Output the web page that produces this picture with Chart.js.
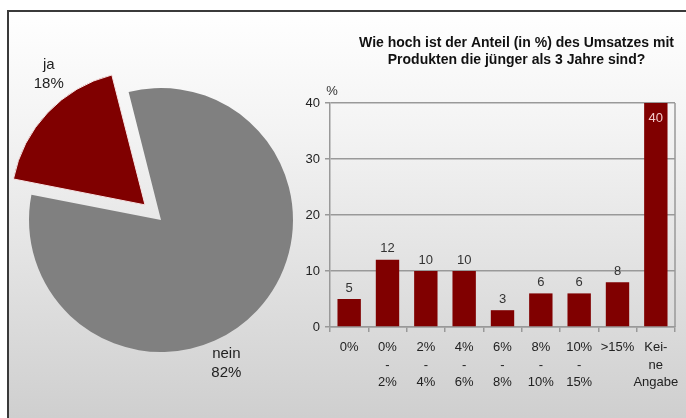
<!DOCTYPE html>
<html>
<head>
<meta charset="utf-8">
<script src="https://cdn.jsdelivr.net/npm/chart.js@4/dist/chart.umd.min.js"></script>
<style>
    html, body { margin: 0; padding: 0; background: #fff; }
    body { width: 686px; height: 418px; position: relative; overflow: hidden; }
    #pie-wrap { position: absolute; left: 0; top: 0; width: 322px; height: 418px; }
    #bar-wrap { position: absolute; left: 296px; top: 0; width: 390px; height: 418px; }
</style>
</head>
<body>
<div id="pie-wrap"><canvas id="pie-chart" width="322" height="418"></canvas></div>
<div id="bar-wrap"><canvas id="bar-chart" width="390" height="418"></canvas></div>
<script>
    const pieLabels = ['ja', 'nein'];
    const pieValues = [18, 82];

    const chartTitle = ['Wie hoch ist der Anteil (in %) des Umsatzes mit', 'Produkten die jünger als 3 Jahre sind?'];
    const barCategories = [
        ['0%'], ['0%', '-', '2%'], ['2%', '-', '4%'], ['4%', '-', '6%'], ['6%', '-', '8%'],
        ['8%', '-', '10%'], ['10%', '-', '15%'], ['>15%'], ['Kei-', 'ne', 'Angabe']
    ];
    const barValues = [5, 12, 10, 10, 3, 6, 6, 8, 40];
    const yMax = 40;
    const yStep = 10;

    const red = '#800000';
    const grey = '#808080';
    const fontFamily = '"Liberation Sans", Arial, sans-serif';
    Chart.defaults.font.family = fontFamily;
    Chart.defaults.color = '#222';

    // shared panel background: grey gradient with a dark frame top and left,
    // drawn in page coordinates so both canvases line up
    const panelPlugin = {
        id: 'panel',
        beforeDraw(chart, args, opts) {
            const ctx = chart.ctx;
            const dx = -opts.pageLeft;
            ctx.save();
            ctx.fillStyle = '#fff';
            ctx.fillRect(0, 0, chart.width, chart.height);
            const g = ctx.createLinearGradient(0, 10, 0, 418);
            g.addColorStop(0, '#ffffff');
            g.addColorStop(0.3, '#f3f3f3');
            g.addColorStop(1, '#cfcfcf');
            ctx.fillStyle = g;
            ctx.fillRect(7 + dx, 10, 1000, 500);
            ctx.strokeStyle = '#3a3a3a';
            ctx.lineWidth = 2;
            ctx.beginPath();
            ctx.moveTo(8 + dx, 420);
            ctx.lineTo(8 + dx, 11);
            ctx.lineTo(1000, 11);
            ctx.stroke();
            ctx.restore();
        }
    };

    // labels for the pie, placed outside the slices
    const pieLabelPlugin = {
        id: 'pieLabels',
        afterDatasetsDraw(chart, args, opts) {
            const ctx = chart.ctx;
            const meta = chart.getDatasetMeta(0);
            ctx.save();
            ctx.font = '15px ' + fontFamily;
            ctx.fillStyle = '#222';
            ctx.textAlign = 'center';
            ctx.textBaseline = 'middle';
            meta.data.forEach((arc, i) => {
                const mid = (arc.startAngle + arc.endAngle) / 2 + opts.shift[i] * Math.PI / 180;
                const x = arc.x + Math.cos(mid) * opts.dist[i];
                const y = arc.y + Math.sin(mid) * opts.dist[i];
                ctx.fillText(pieLabels[i], x, y - 9);
                ctx.fillText(pieValues[i] + '%', x, y + 10);
            });
            ctx.restore();
        }
    };

    new Chart($('pie-chart'), {
        type: 'pie',
        data: {
            labels: pieLabels,
            datasets: [{
                data: pieValues,
                backgroundColor: [red, grey],
                borderColor: ['#f6e4e4', grey],
                borderWidth: [1, 0],
                offset: [88, 0]
            }]
        },
        options: {
            responsive: false,
            animation: false,
            rotation: -79,
            radius: 132,
            layout: { padding: { top: 22 } },
            plugins: {
                legend: { display: false },
                tooltip: { enabled: false },
                panel: { pageLeft: 0 },
                pieLabels: { shift: [9, 22], dist: [184, 157] }
            }
        },
        plugins: [panelPlugin, pieLabelPlugin]
    });

    // title, "%" unit, plot frame and value labels for the bar chart
    const barExtrasPlugin = {
        id: 'barExtras',
        afterDatasetsDraw(chart) {
            const ctx = chart.ctx;
            const area = chart.chartArea;
            ctx.save();

            ctx.strokeStyle = '#999';
            ctx.lineWidth = 1.5;
            ctx.beginPath();
            ctx.moveTo(area.right, area.top);
            ctx.lineTo(area.right, area.bottom);
            ctx.stroke();

            ctx.fillStyle = '#111';
            ctx.textAlign = 'center';
            ctx.textBaseline = 'middle';
            ctx.font = 'bold 14px ' + fontFamily;
            const cx = (area.left + area.right) / 2 + 14;
            chartTitle.forEach((line, i) => ctx.fillText(line, cx, 43 + i * 17));

            ctx.font = '13px ' + fontFamily;
            ctx.fillStyle = '#333';
            ctx.fillText('%', area.left + 2, area.top - 12);

            const meta = chart.getDatasetMeta(0);
            meta.data.forEach((bar, i) => {
                const v = barValues[i];
                if (v >= yMax) {
                    ctx.fillStyle = '#f2caca';
                    ctx.fillText(String(v), bar.x, bar.y + 15);
                } else {
                    ctx.fillStyle = '#333';
                    ctx.fillText(String(v), bar.x, bar.y - 11);
                }
            });
            ctx.restore();
        }
    };

    new Chart($('bar-chart'), {
        type: 'bar',
        data: {
            labels: barCategories,
            datasets: [{
                data: barValues,
                backgroundColor: red,
                borderWidth: 0,
                categoryPercentage: 1,
                barPercentage: 0.61
            }]
        },
        options: {
            responsive: false,
            animation: false,
            layout: { padding: { top: 103, right: 11, left: 0, bottom: 0 } },
            plugins: {
                legend: { display: false },
                tooltip: { enabled: false },
                panel: { pageLeft: 296 }
            },
            scales: {
                x: {
                    grid: { drawOnChartArea: false, tickLength: 5, color: '#999', lineWidth: 1.5 },
                    border: { color: '#999', width: 1.5 },
                    ticks: { font: { size: 13, lineHeight: 1.35 }, color: '#222', padding: 7, maxRotation: 0, autoSkip: false },
                    afterFit(scale) { scale.height = 91; }
                },
                y: {
                    min: 0,
                    max: yMax,
                    grid: { color: '#999', lineWidth: 1.5, tickLength: 5 },
                    border: { color: '#999', width: 1.5 },
                    ticks: { stepSize: yStep, font: { size: 13 }, color: '#222', padding: 5 },
                    afterFit(scale) { scale.width = 34; }
                }
            }
        },
        plugins: [panelPlugin, barExtrasPlugin]
    });

    function $(id) { return document.getElementById(id); }
</script>
</body>
</html>
